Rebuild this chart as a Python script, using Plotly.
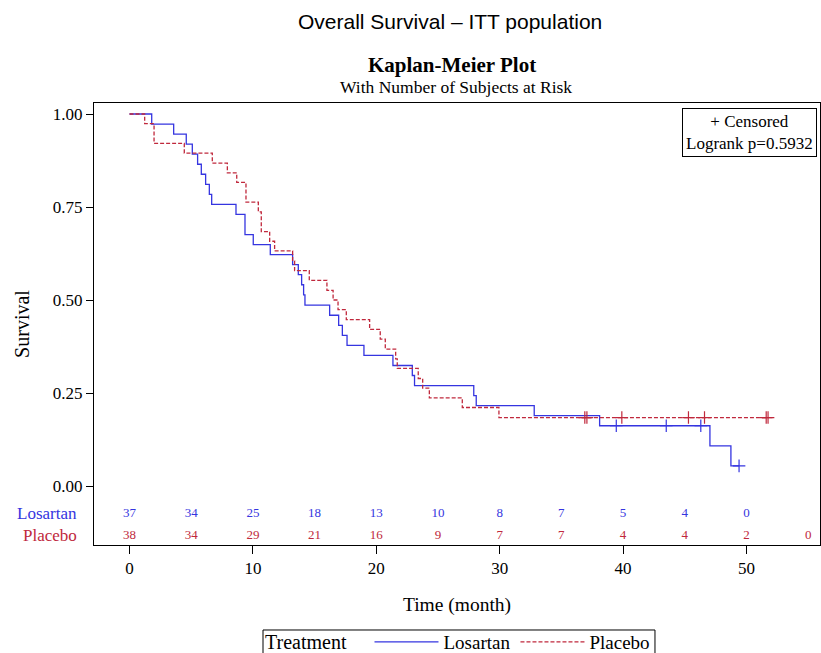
import plotly.graph_objects as go

# ---- data ----
los_t = [0, 1.8, 3.58, 4.6, 5.09, 5.52, 5.82, 6.17, 6.47, 6.66, 8.63, 9.36, 10.03, 11.41,
         13.22, 13.68, 13.95, 14.11, 14.22, 16.22, 16.95, 17.25, 17.63, 19.0, 21.35, 22.92,
         23.1, 27.9, 28.1, 32.8, 38.1, 47.04, 48.74, 49.4]
los_s = [1.0, 0.973, 0.946, 0.919, 0.892, 0.865, 0.838, 0.811, 0.784, 0.757, 0.730, 0.676,
         0.649, 0.622, 0.595, 0.568, 0.541, 0.514, 0.486, 0.459, 0.432, 0.405, 0.378, 0.351,
         0.324, 0.297, 0.270, 0.243, 0.216, 0.189, 0.162, 0.108, 0.054, 0.054]
los_cens_t = [39.45, 43.5, 46.3, 49.4]
los_cens_s = [0.162, 0.162, 0.162, 0.054]

pla_t = [0, 1.23, 1.99, 4.44, 6.71, 7.93, 8.69, 9.44, 10.44, 10.68, 11.36, 11.76, 13.22,
         13.38, 14.57, 16.0, 16.5, 16.9, 17.57, 19.46, 20.32, 20.73, 21.57, 21.7, 23.4,
         23.76, 24.3, 26.97, 29.94, 51.75]
pla_s = [1.0, 0.974, 0.921, 0.895, 0.868, 0.842, 0.816, 0.763, 0.737, 0.684, 0.658, 0.632,
         0.605, 0.579, 0.553, 0.526, 0.500, 0.474, 0.447, 0.421, 0.395, 0.368, 0.342, 0.316,
         0.289, 0.263, 0.237, 0.211, 0.184, 0.184]
pla_cens_t = [36.9, 37.07, 39.9, 45.3, 46.6, 51.6, 51.75]
pla_cens_s = [0.184, 0.184, 0.184, 0.184, 0.184, 0.184, 0.184]

los_risk_t = [0, 5, 10, 15, 20, 25, 30, 35, 40, 45, 50]
los_risk = [37, 34, 25, 18, 13, 10, 8, 7, 5, 4, 0]
pla_risk_t = [0, 5, 10, 15, 20, 25, 30, 35, 40, 45, 50, 55]
pla_risk = [38, 34, 29, 21, 16, 9, 7, 7, 4, 4, 2, 0]

x_ticks = [0, 10, 20, 30, 40, 50]
y_ticks = [0.0, 0.25, 0.5, 0.75, 1.0]
y_ticktext = ["0.00", "0.25", "0.50", "0.75", "1.00"]

BLUE = "#3535E0"
RED = "#C0283C"
SERIF = "Liberation Serif, Times New Roman, serif"

fig = go.Figure()

fig.add_trace(go.Scatter(x=los_t, y=los_s, mode="lines", line_shape="hv",
                         line=dict(color=BLUE, width=1.3), name="Losartan"))
fig.add_trace(go.Scatter(x=pla_t, y=pla_s, mode="lines", line_shape="hv",
                         line=dict(color=RED, width=1.3, dash="4px,2px"), name="Placebo"))
fig.add_trace(go.Scatter(x=los_cens_t, y=los_cens_s, mode="markers", showlegend=False,
                         marker=dict(symbol="cross-thin", size=9,
                                     line=dict(color=BLUE, width=1.2))))
fig.add_trace(go.Scatter(x=pla_cens_t, y=pla_cens_s, mode="markers", showlegend=False,
                         marker=dict(symbol="cross-thin", size=9,
                                     line=dict(color=RED, width=1.2))))

# at-risk rows
ROW_LOS = -0.075
ROW_PLA = -0.134
fig.add_trace(go.Scatter(x=los_risk_t, y=[ROW_LOS] * len(los_risk_t), mode="text",
                         text=[str(v) for v in los_risk], showlegend=False,
                         textfont=dict(family=SERIF, size=13, color=BLUE), hoverinfo="skip"))
fig.add_trace(go.Scatter(x=pla_risk_t, y=[ROW_PLA] * len(pla_risk_t), mode="text",
                         text=[str(v) for v in pla_risk], showlegend=False,
                         textfont=dict(family=SERIF, size=13, color=RED), hoverinfo="skip"))

fig.add_annotation(text="Losartan", xref="paper", yref="y", x=-0.021, y=ROW_LOS,
                   xanchor="right", yanchor="middle", showarrow=False,
                   font=dict(family=SERIF, size=17, color=BLUE))
fig.add_annotation(text="Placebo", xref="paper", yref="y", x=-0.021, y=ROW_PLA,
                   xanchor="right", yanchor="middle", showarrow=False,
                   font=dict(family=SERIF, size=17, color=RED))

# titles
fig.add_annotation(text="Overall Survival \u2013 ITT population", xref="paper", yref="paper",
                   x=0.491, y=1.185, xanchor="center", yanchor="middle", showarrow=False,
                   font=dict(family="Liberation Sans, Arial", size=21, color="black"))
fig.add_annotation(text="<b>Kaplan-Meier Plot</b>", xref="paper", yref="paper",
                   x=0.493, y=1.087, xanchor="center", yanchor="middle", showarrow=False,
                   font=dict(family=SERIF, size=21, color="black"))
fig.add_annotation(text="With Number of Subjects at Risk", xref="paper", yref="paper",
                   x=0.499, y=1.037, xanchor="center", yanchor="middle", showarrow=False,
                   font=dict(family=SERIF, size=17.5, color="black"))

# censored / logrank box
fig.add_annotation(text="+ Censored<br>Logrank p=0.5932", xref="paper", yref="paper",
                   x=0.9959, y=0.9887, xanchor="right", yanchor="top", showarrow=False,
                   align="center", bordercolor="black", borderwidth=1, borderpad=3,
                   bgcolor="white", font=dict(family=SERIF, size=17, color="black"))

# legend frame
fig.add_shape(type="rect", xref="paper", yref="paper", x0=0.2328, x1=0.7727,
              y0=-0.1923, y1=-0.29, line=dict(color="black", width=1), fillcolor="rgba(0,0,0,0)")

fig.update_layout(
    width=821, height=653,
    margin=dict(l=94, r=1, t=103, b=108, autoexpand=False),
    paper_bgcolor="white", plot_bgcolor="white",
    font=dict(family=SERIF, color="black"),
    showlegend=True,
    legend=dict(orientation="h", x=0.2328, y=-0.1765, xanchor="left", yanchor="top",
                borderwidth=0, bgcolor="rgba(0,0,0,0)",
                title=dict(text="Treatment   ", font=dict(family=SERIF, size=20)),
                font=dict(family=SERIF, size=19), itemwidth=64),
    xaxis=dict(range=[-2.877, 55.96], tickvals=x_ticks, ticks="outside", ticklen=8,
               tickwidth=1, tickcolor="black", showline=True, linecolor="black", linewidth=1,
               mirror=True, showgrid=False, zeroline=False,
               tickfont=dict(family=SERIF, size=17),
               title=dict(text="Time (month)", font=dict(family=SERIF, size=19.5), standoff=19)),
    yaxis=dict(range=[-0.1586, 1.0296], tickvals=y_ticks, ticktext=y_ticktext,
               ticks="outside", ticklen=7, tickwidth=1, tickcolor="black",
               showline=True, linecolor="black", linewidth=1, mirror=True,
               showgrid=False, zeroline=False, tickfont=dict(family=SERIF, size=17),
               title=dict(text="Survival", font=dict(family=SERIF, size=20), standoff=17)),
)

fig.write_html("out.html",
               config={"displayModeBar": False},
               post_script="document.body.style.margin='0px';"
                           "document.body.style.overflow='hidden';")
